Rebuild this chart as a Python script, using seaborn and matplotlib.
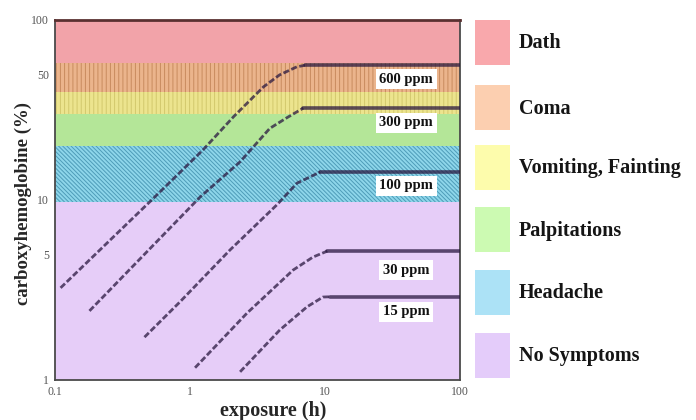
import numpy as np
import pandas as pd
import matplotlib
matplotlib.use("Agg")
import matplotlib.pyplot as plt
import seaborn as sns
from matplotlib.patches import Rectangle

# ---- data ----
band_labels = ["No Symptoms", "Headache", "Palpitations", "Vomiting, Fainting", "Coma", "Dath"]
band_edges = [1, 9.8, 20, 30, 40, 58, 100]

series_names = ["600 ppm", "300 ppm", "100 ppm", "30 ppm", "15 ppm"]
exposure_600 = [0.11, 0.52, 1.25, 2.1, 3.5, 4.6, 6.2, 7.1, 100]
cohb_600 = [3.25, 10, 19, 29, 42.5, 49.5, 55, 56, 56]
exposure_300 = [0.18, 1.19, 2.35, 3.9, 5.2, 6.9, 100]
cohb_300 = [2.42, 10.4, 16.3, 25, 28.6, 32.4, 32.4]
exposure_100 = [0.46, 0.84, 1.98, 4.4, 6.2, 9.2, 100]
cohb_100 = [1.73, 2.71, 5.28, 9.4, 12.4, 14.3, 14.3]
exposure_30 = [1.09, 2.64, 5.8, 8.15, 10.4, 100]
cohb_30 = [1.17, 2.35, 4.08, 4.82, 5.2, 5.2]
exposure_15 = [2.35, 4.64, 7.36, 9.66, 10.9, 100]
cohb_15 = [1.11, 1.9, 2.55, 2.89, 2.9, 2.9]

x_ticks = [0.1, 1, 10, 100]
x_tick_labels = ["0.1", "1", "10", "100"]
y_ticks = [1, 5, 10, 50, 100]
y_tick_labels = ["1", "5", "10", "50", "100"]

# ---- styles ----
band_face = ["#e6cdf8", "#8ed6ea", "#b4e698", "#ece48e", "#ebb48c", "#f2a3a9"]
band_hatch = [None, "\\" * 8, None, "||||", "||||", None]
band_hatchcol = ["#e6cdf8", "#4e9cb8", "#b4e698", "#d2c86c", "#c88a5e", "#f2a3a9"]
legend_face = ["#e4ccfa", "#ace2f6", "#ccfab2", "#fdfcac", "#fccfb0", "#f9a8ac"]
label_x = 40
label_y = [47, 26.8, 12.0, 4.08, 2.39]

W, H = 696, 420
sns.set_style("white")
plt.rcParams["font.family"] = ["Liberation Serif", "DejaVu Serif"]
plt.rcParams["hatch.linewidth"] = 0.7

fig = plt.figure(figsize=(W / 100, H / 100), dpi=100)
ax = fig.add_axes([55 / W, 1 - 380 / H, 405 / W, 360 / H])
ax.set_xscale("log")
ax.set_yscale("log")
ax.set_xlim(0.1, 100)
ax.set_ylim(1, 100)

for i in range(len(band_labels)):
    ax.axhspan(band_edges[i], band_edges[i + 1], facecolor=band_face[i],
               edgecolor=band_hatchcol[i], hatch=band_hatch[i], linewidth=0, zorder=0)

xs = [exposure_600, exposure_300, exposure_100, exposure_30, exposure_15]
ys = [cohb_600, cohb_300, cohb_100, cohb_30, cohb_15]
line_col = "#2a1840"
for name, xv, yv in zip(series_names, xs, ys):
    df = pd.DataFrame({"exposure": xv, "cohb": yv})
    rise = df.iloc[:-1]
    plateau = df.iloc[-2:]
    sns.lineplot(data=rise, x="exposure", y="cohb", ax=ax, sort=False, color=line_col,
                 alpha=0.75, linewidth=2.0, zorder=3, estimator=None)
    ax.lines[-1].set_dashes((2.2, 0.9))
    sns.lineplot(data=plateau, x="exposure", y="cohb", ax=ax, sort=False, color=line_col,
                 alpha=0.75, linewidth=2.6, zorder=3, estimator=None)

for name, ly in zip(series_names, label_y):
    ax.text(label_x, ly, name, ha="center", va="center", fontsize=10.5, fontweight="bold",
            color="#111111", zorder=5,
            bbox=dict(boxstyle="square,pad=0.25", facecolor="white", edgecolor="none"))

ax.set_xticks(x_ticks)
ax.set_xticklabels(x_tick_labels)
ax.set_yticks(y_ticks)
ax.set_yticklabels(y_tick_labels)
ax.minorticks_off()
ax.tick_params(axis="x", direction="in", length=5, width=1, color="#555555",
               labelsize=8.5, labelcolor="#555555", pad=4)
ax.tick_params(axis="y", direction="out", length=3, width=1, color="#555555",
               labelsize=8.5, labelcolor="#555555", pad=1.5)
for s in ax.spines.values():
    s.set_color("#4a4a4a")
    s.set_linewidth(1.3)
    s.set_visible(True)
ax.spines["top"].set_color("#5a3030")
ax.spines["top"].set_linewidth(2.0)

ax.set_xlabel("exposure (h)", fontsize=14.5, fontweight="bold", va="center")
ax.xaxis.set_label_coords((273 - 55) / 405, -(411 - 380) / 360)
ax.set_ylabel("carboxyhemoglobine (%)", fontsize=13.5, fontweight="bold", va="center")
ax.yaxis.set_label_coords((23 - 55) / 405, 0.49)

# legend drawn as figure-level patches + text
patch_tops = [20, 85, 145, 207, 270, 333]
patch_h = 45
for i, top in enumerate(patch_tops):
    j = len(band_labels) - 1 - i
    fig.add_artist(Rectangle((475 / W, 1 - (top + patch_h) / H), 35 / W, patch_h / H,
                             transform=fig.transFigure, facecolor=legend_face[j],
                             edgecolor="none"))
    fig.text(519 / W, 1 - (top + patch_h / 2 + 1) / H, band_labels[j], ha="left",
             va="center", fontsize=14.5, fontweight="bold", color="#151515")

fig.savefig("out.png", dpi=100)
